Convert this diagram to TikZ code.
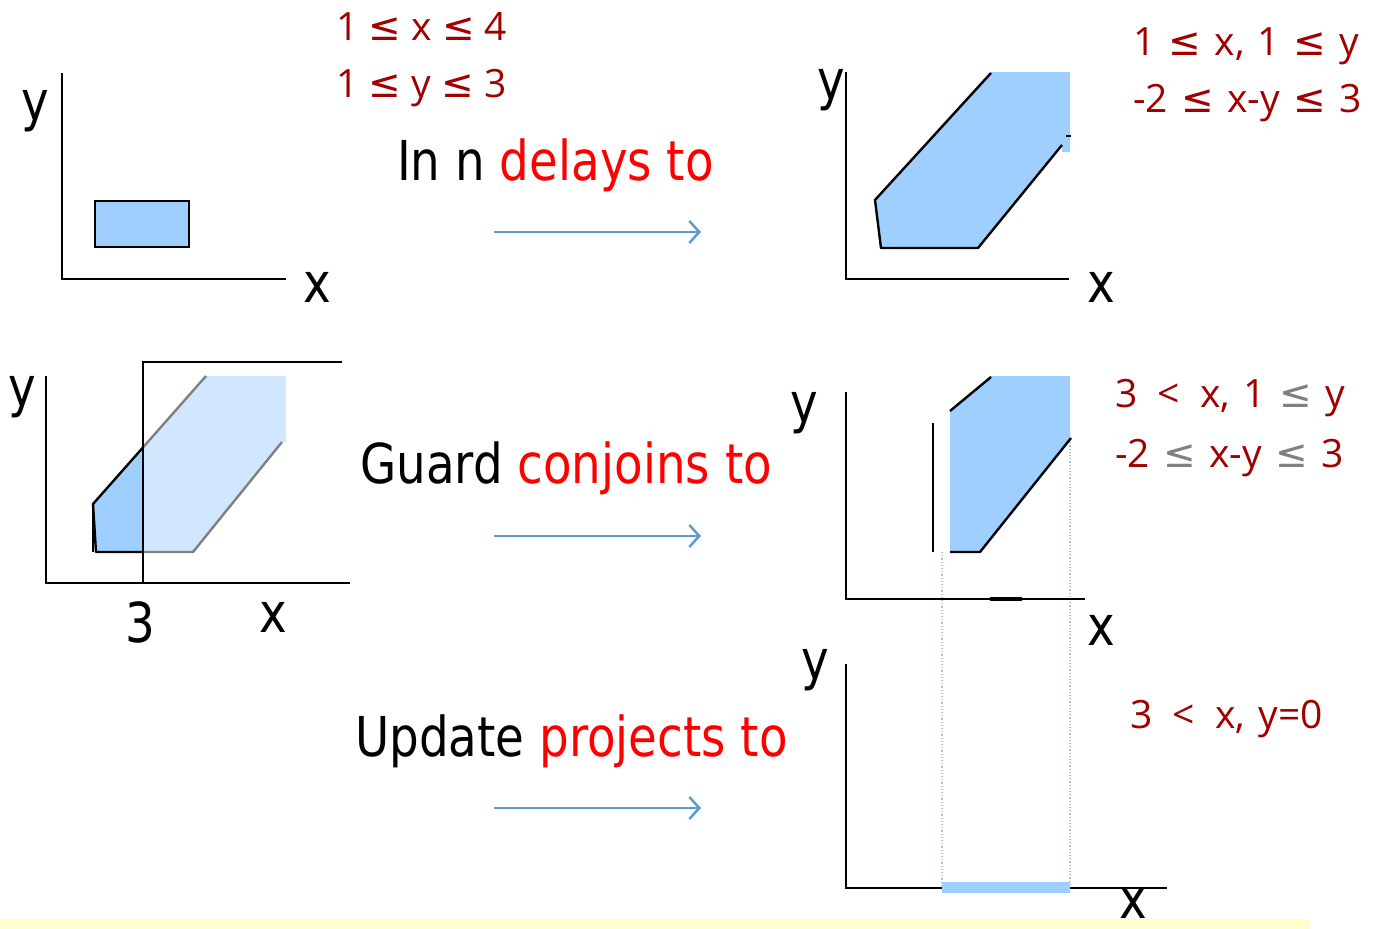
\documentclass[tikz,border=0pt]{standalone}
\usepackage{fontspec}
\setmainfont[FakeStretch=0.85]{DejaVu Sans}
\newfontfamily\redf{Open Sans}
\newfontfamily\symf{DejaVu Sans}
\newcommand\myle{{\symf ≤}}
\newcommand\wsp{\hspace{0.08em}}
\newcommand\wspb{\hspace{0.26em}}
\usetikzlibrary{arrows.meta}
\definecolor{dred}{RGB}{160,0,0}
\definecolor{fillb}{RGB}{159,207,255}
\definecolor{lightb}{RGB}{208,231,255}
\definecolor{arrowb}{RGB}{91,155,213}
\definecolor{dotb}{RGB}{157,195,230}
\definecolor{yel}{RGB}{255,255,204}
\definecolor{edgegray}{RGB}{128,128,128}
\begin{document}
\begin{tikzpicture}[x=1pt,y=-1pt,
  axis/.style={line width=2.6pt, black},
  shapeline/.style={line width=2.4pt, black, line join=round},
  lbl/.style={font=\fontsize{55}{60}\selectfont, inner sep=0pt},
  bigtext/.style={font=\fontsize{55}{60}\selectfont, inner sep=0pt, anchor=base west},
  cons/.style={font=\redf\fontsize{39}{44}\selectfont, text=dred, anchor=base west, inner sep=0pt},
  flow/.style={draw=arrowb, line width=2.5pt, -{Straight Barb[length=10pt,width=22pt,line width=2.5pt]}},
  dotline/.style={draw=dotb, line width=1.2pt, dotted}]
\useasboundingbox (0,0) rectangle (1374,929);
\fill[white] (0,0) rectangle (1374,929);
\fill[yel] (0,919) rectangle (1310,929);

% ---------- Panel 1 ----------
\draw[axis] (62,73) -- (62,279) -- (286,279);
\node[lbl] (p1y) at (35,111) {y};
\node[lbl] (p1x) at (317,287) {x};
\draw[fill=fillb, line width=2.4pt] (95,201) rectangle (189,247);
\node[cons] (c1a) at (336,40) {1 \myle{} x \myle{} 4};
\node[cons] (c1b) at (336,97) {1 \myle{} y \myle{} 3};

% ---------- text + arrow 1 ----------
\node[bigtext] (t1) at (397,180) {In n \textcolor{red}{delays to}};
\coordinate (a1s) at (494,232);
\coordinate (a1e) at (701,232);
\draw[flow] (a1s) -- (a1e);

% ---------- Panel 2 ----------
\draw[axis] (846,72) -- (846,279) -- (1069,279);
\node[lbl] (p2y) at (831,90) {y};
\node[lbl] (p2x) at (1101,287) {x};
\fill[fillb] (875,200) -- (881,248) -- (978,248) -- (1062,146) -- (1062,152) -- (1070,152) -- (1070,72) -- (990,72) -- cycle;
\draw[shapeline] (991,73) -- (875,200) -- (881,248) -- (978,248) -- (1062,145);
\draw[black, line width=1.5pt] (1066,136) -- (1071,136);
\node[cons] (c2a) at (1133,55) {1 \wsp\myle\wsp{} x,\wsp{} 1 \wsp\myle\wsp{} y};
\node[cons] (c2b) at (1133,112) {-2 \wsp\myle\wsp{} x-y \wsp\myle\wsp{} 3};

% ---------- Panel 3 ----------
\draw[axis] (46,376) -- (46,583) -- (350,583);
\node[lbl] (p3y) at (22,397) {y};
\node[lbl] (p3three) at (140,622) {3};
\node[lbl] (p3x) at (273,617) {x};
\fill[lightb] (93,504) -- (96,552) -- (193,552) -- (282,442) -- (286,442) -- (286,376) -- (206,376) -- cycle;
\draw[edgegray, line width=2.4pt, line join=round] (206,376) -- (143,447.4);
\draw[edgegray, line width=2.4pt, line join=round] (143,552) -- (193,552) -- (282,442);
\fill[fillb] (93,504) -- (96,552) -- (143,552) -- (143,447.4) -- cycle;
\draw[shapeline] (143,447.4) -- (93,504) -- (96,552) -- (143,552);
\draw[black, line width=2pt] (93,504) -- (93,552);
\draw[axis] (143,583) -- (143,362) -- (342,362);

% ---------- text + arrow 2 ----------
\node[bigtext] (t2) at (360,483) {Guard \textcolor{red}{conjoins to}};
\coordinate (a2s) at (494,536);
\coordinate (a2e) at (701,536);
\draw[flow] (a2s) -- (a2e);

% ---------- Panel 4 ----------
\draw[dotline] (942,552) -- (942,888);
\draw[dotline] (1070,439) -- (1070,888);
\draw[axis] (846,392) -- (846,599) -- (1085,599);
\draw[black, line width=3.6pt] (990,599) -- (1022,599);
\node[lbl] (p4y) at (804,413) {y};
\node[lbl] (p4x) at (1101,630) {x};
\draw[black, line width=1.3pt] (933,423) -- (933,552);
\fill[fillb] (950,412) -- (950,552) -- (980,552) -- (1070,439) -- (1070,376) -- (991,376) -- cycle;
\draw[shapeline] (991,377) -- (950,411);
\draw[shapeline] (950,552) -- (980,552) -- (1071,438);
\node[cons] (c4a) at (1115,407) {3 \wspb<\wspb{} x,\wsp{} 1 \wsp\textcolor{edgegray}{\myle}\wsp{} y};
\node[cons] (c4b) at (1115,467) {-2 \wsp\textcolor{edgegray}{\myle}\wsp{} x-y \wsp\textcolor{edgegray}{\myle}\wsp{} 3};

% ---------- text + arrow 3 ----------
\node[bigtext] (t3) at (355,756) {Update \textcolor{red}{projects to}};
\coordinate (a3s) at (494,808);
\coordinate (a3e) at (701,808);
\draw[flow] (a3s) -- (a3e);

% ---------- Panel 5 ----------
\draw[axis] (846,664) -- (846,888) -- (1167,888);
\fill[fillb] (942,882) rectangle (1070,893);
\node[lbl] (p5y) at (815,670) {y};
\node[lbl] (p5x) at (1133,903) {x};
\node[cons] (c5) at (1130,728) {3 \wspb<\wspb{} x,\wsp{} y=0};
\end{tikzpicture}
\end{document}
